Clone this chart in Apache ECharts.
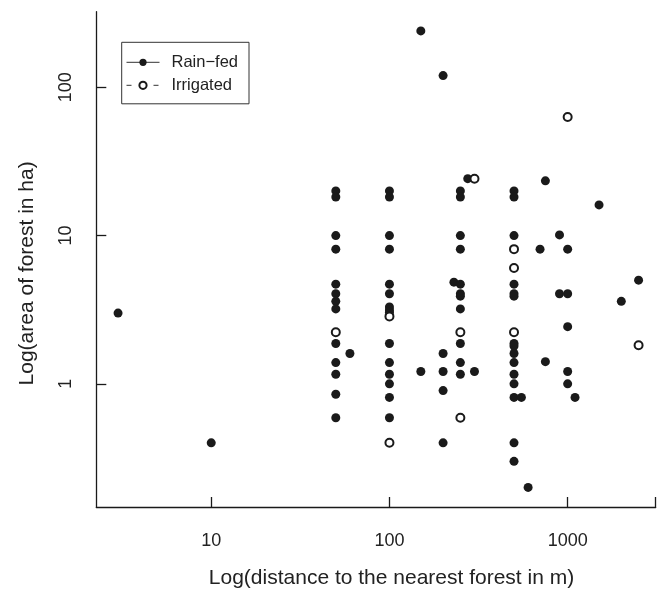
<!DOCTYPE html>
<html>
<head>
<meta charset="utf-8">
<script src="https://cdn.jsdelivr.net/npm/echarts@6/dist/echarts.min.js"></script>
<style>
  html, body { margin: 0; padding: 0; background: #fff; }
  #main { width: 665px; height: 594px; }
</style>
</head>
<body>
<div id="main"></div>
<script>
// distance to nearest forest (m) / area of forest (ha)
const rainDist = [
  3, 10,
  50, 50, 50, 50, 50, 50, 50, 50, 50, 50, 50, 50, 50,
  60,
  100, 100, 100, 100, 100, 100, 100, 100, 100, 100, 100, 100, 100, 100, 100,
  150, 150,
  200, 200, 200, 200, 200,
  230,
  250, 250, 250, 250, 250, 250, 250, 250, 250, 250, 250,
  275, 300,
  500, 500, 500, 500, 500, 500, 500, 500, 500, 500, 500, 500, 500, 500, 500,
  550, 600, 700, 750, 750, 900, 900,
  1000, 1000, 1000, 1000, 1000,
  1100, 1500, 2000, 2500
]
const rainArea = [
  3.0, 0.4,
  20, 18.2, 10, 8.1, 4.7, 4.05, 3.6, 3.2, 1.87, 1.39, 1.16, 0.85, 0.59,
  1.6,
  20, 18.2, 10, 8.1, 4.7, 4.05, 3.3, 3.15, 3.04, 1.87, 1.39, 1.16, 1.0, 0.81, 0.59,
  240, 1.21,
  120, 1.6, 1.21, 0.9, 0.4,
  4.85,
  20, 18.2, 10, 8.1, 4.7, 4.05, 3.9, 3.2, 1.87, 1.39, 1.16,
  24.2, 1.21,
  20, 18.2, 10, 4.7, 4.05, 3.9, 1.87, 1.8, 1.6, 1.39, 1.16, 1.0, 0.81, 0.4, 0.3,
  0.81, 0.2, 8.1, 23.4, 1.41, 10.1, 4.05,
  8.1, 4.05, 2.43, 1.21, 1.0,
  0.81, 16.1, 3.6, 5.0
]
const irrDist = [50, 100, 100, 250, 250, 300, 500, 500, 500, 1000, 2500]
const irrArea = [2.23, 2.85, 0.4, 2.23, 0.59, 24.2, 8.1, 6.05, 2.23, 63, 1.82]

const xTicks = [10, 100, 1000]
const yTicks = [1, 10, 100]
const xMin = 2.265, xMax = 3119
const yMin = 0.1476, yMax = 323.6

const font = "'Liberation Sans', Arial, Helvetica, sans-serif"
const ink = '#1a1a1a'

const pairs = (xs, ys) => xs.map((x, i) => [x, ys[i]])

const chart = echarts.init(document.getElementById('main'))

chart.setOption({
  animation: false,
  grid: { left: 96.3, right: 9.3, top: 11.7, bottom: 80.7 },
  legend: {
    left: 121.7,
    top: 42.3,
    orient: 'vertical',
    borderColor: '#333',
    borderWidth: 1,
    padding: [11.5, 11, 10, 4.3],
    itemWidth: 33,
    itemHeight: 9,
    itemGap: 6,
    textStyle: { fontFamily: font, fontSize: 16.5, color: '#222', padding: [0, 0, 0, 7] },
    lineStyle: { color: '#333', width: 1, opacity: 1 },
    data: ['Rain\u2212fed', 'Irrigated']
  },
  xAxis: {
    type: 'log',
    logBase: 10,
    min: xMin,
    max: xMax,
    name: 'Log(distance to the nearest forest in m)',
    nameLocation: 'middle',
    nameGap: 61,
    nameTextStyle: { fontFamily: font, fontSize: 21, color: '#222', padding: [0, 0, 0, 31] },
    axisLine: { lineStyle: { color: '#1a1a1a', width: 1.3 } },
    axisTick: { inside: true, length: 10, lineStyle: { color: '#1a1a1a', width: 1.3 },
      customValues: xTicks.concat([xMax * 0.9999]) },
    axisLabel: { margin: 25, fontFamily: font, fontSize: 18, color: '#222',
      customValues: xTicks, formatter: v => String(Math.round(v)) },
    splitLine: { show: false }
  },
  yAxis: {
    type: 'log',
    logBase: 10,
    min: yMin,
    max: yMax,
    name: 'Log(area of forest in ha)',
    nameLocation: 'middle',
    nameGap: 59,
    nameTextStyle: { fontFamily: font, fontSize: 21, color: '#222', padding: [0, 28, 0, 0] },
    axisLine: { lineStyle: { color: '#1a1a1a', width: 1.3 } },
    axisTick: { inside: true, length: 10, lineStyle: { color: '#1a1a1a', width: 1.3 },
      customValues: yTicks },
    axisLabel: { margin: 21, rotate: 90, fontFamily: font, fontSize: 18, color: '#222',
      customValues: yTicks, formatter: v => String(Math.round(v)) },
    splitLine: { show: false }
  },
  series: [
    {
      name: 'Rain\u2212fed',
      type: 'line',
      data: pairs(rainDist, rainArea),
      symbol: 'circle',
      symbolSize: 9,
      itemStyle: { color: ink },
      lineStyle: { color: '#333', opacity: 0 },
      emphasis: { disabled: true }
    },
    {
      name: 'Irrigated',
      type: 'line',
      data: pairs(irrDist, irrArea),
      symbol: 'emptyCircle',
      symbolSize: 8,
      itemStyle: { color: ink, borderColor: ink, borderWidth: 1.3 },
      lineStyle: { color: '#333', opacity: 0, type: [5, 22] },
      emphasis: { disabled: true }
    }
  ]
})
</script>
</body>
</html>
